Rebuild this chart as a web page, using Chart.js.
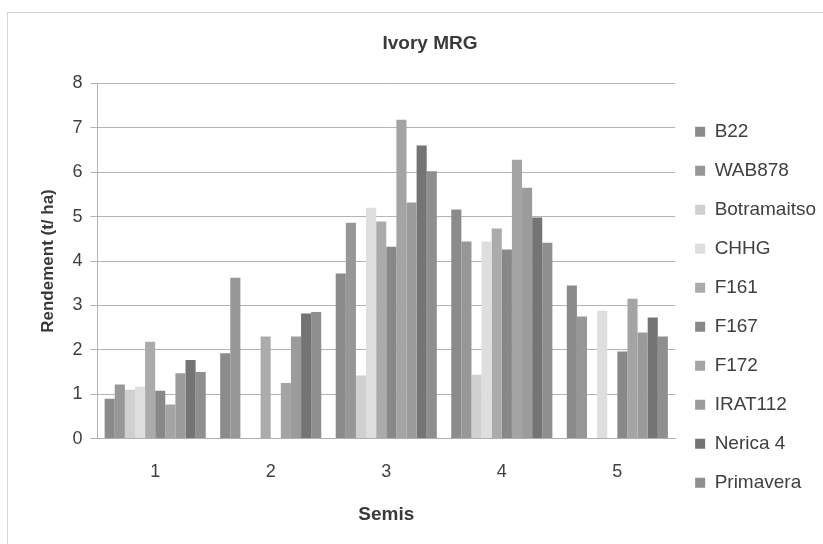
<!DOCTYPE html>
<html>
<head>
<meta charset="utf-8">
<script src="https://cdn.jsdelivr.net/npm/chart.js@4"></script>
<style>
  html, body { margin: 0; padding: 0; background: #fff; }
  #wrap { position: relative; width: 823px; height: 544px; }
  #frame { position: absolute; left: 7px; top: 12px; width: 816px; height: 532px;
           border-left: 1px solid #d4d4d4; border-top: 1px solid #cfcfcf; }
  canvas { position: absolute; left: 0; top: 0; }
</style>
</head>
<body>
<div id="wrap">
  <div id="frame"></div>
  <canvas id="myChart" width="823" height="544"></canvas>
</div>
<script>
const semis = ['1', '2', '3', '4', '5']

const b22        = [0.90, 1.92, 3.72, 5.16, 3.45]
const wab878     = [1.22, 3.62, 4.86, 4.44, 2.75]
const botramaitso = [1.10, null, 1.42, 1.44, null]
const chhg       = [1.17, null, 5.20, 4.44, 2.88]
const f161       = [2.18, 2.30, 4.89, 4.73, null]
const f167       = [1.08, null, 4.32, 4.26, 1.96]
const f172       = [0.77, 1.25, 7.18, 6.28, 3.15]
const irat112    = [1.47, 2.30, 5.32, 5.65, 2.39]
const nerica4    = [1.77, 2.82, 6.60, 4.98, 2.73]
const primavera  = [1.50, 2.85, 6.02, 4.41, 2.30]

const fontFam = "'Liberation Sans', Arial, sans-serif"

function serie(label, data, color) {
    return {
        label: label,
        data: data,
        backgroundColor: color,
        borderWidth: 0,
        barPercentage: 1.0,
        categoryPercentage: 0.875
    }
}

const info = {
    labels: semis,
    datasets: [
        serie('B22', b22, '#8b8b8b'),
        serie('WAB878', wab878, '#979797'),
        serie('Botramaitso', botramaitso, '#d0d0d0'),
        serie('CHHG', chhg, '#dedede'),
        serie('F161', f161, '#ababab'),
        serie('F167', f167, '#888888'),
        serie('F172', f172, '#a4a4a4'),
        serie('IRAT112', irat112, '#9b9b9b'),
        serie('Nerica 4', nerica4, '#747474'),
        serie('Primavera', primavera, '#8f8f8f')
    ]
}

const config = {
    type: 'bar',
    data: info,
    options: {
        responsive: false,
        animation: false,
        layout: { padding: { left: 34, right: -3, top: 18, bottom: 14 } },
        plugins: {
            title: {
                display: true,
                text: 'Ivory MRG',
                color: '#3a3a3a',
                font: { family: fontFam, size: 19, weight: 'bold' },
                padding: { top: 14, bottom: 28.6 }
            },
            legend: {
                position: 'right',
                align: 'start',
                title: { display: true, text: ' ', font: { size: 1 }, padding: { top: 83, bottom: 0 } },
                labels: {
                    color: '#404040',
                    font: { family: fontFam, size: 19 },
                    boxWidth: 10,
                    boxHeight: 10,
                    padding: 20
                }
            },
            tooltip: { enabled: false }
        },
        scales: {
            x: {
                grid: { display: false },
                border: { display: true, color: '#b0b0b0' },
                ticks: { color: '#404040', font: { family: fontFam, size: 18 }, padding: 15 },
                title: {
                    display: true,
                    text: 'Semis',
                    color: '#3a3a3a',
                    font: { family: fontFam, size: 19, weight: 'bold' },
                    padding: { top: 5 }
                }
            },
            y: {
                min: 0,
                max: 8,
                ticks: { stepSize: 1, color: '#404040', font: { family: fontFam, size: 18 }, padding: 8 },
                grid: { color: '#b4b4b4', tickLength: 7 },
                border: { display: true, color: '#b0b0b0' },
                title: {
                    display: true,
                    text: 'Rendement (t/ ha)',
                    color: '#3a3a3a',
                    font: { family: fontFam, size: 17, weight: 'bold' },
                    padding: { bottom: 6 }
                }
            }
        }
    }
}

let myChart = new Chart(document.getElementById('myChart'), config)
</script>
</body>
</html>
